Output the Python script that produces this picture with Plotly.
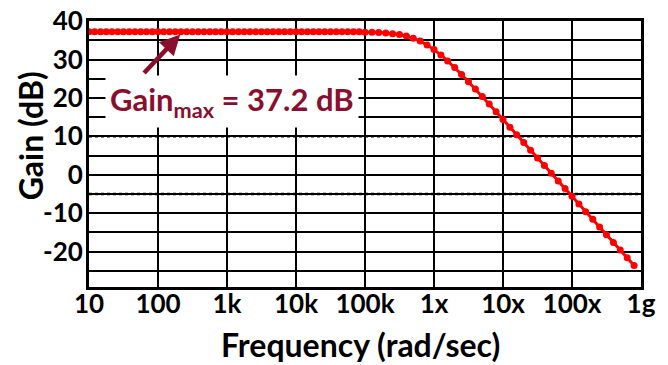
import math
import plotly.graph_objects as go

# ---- data ----
freq_rad_s = [
    10, 12.1, 14.7, 17.8, 21.5, 26.1, 31.6, 38.3, 46.4, 56.2, 68.1, 82.5,
    100, 121, 147, 178, 215, 261, 316, 383, 464, 562, 681, 825,
    1e3, 1.21e3, 1.47e3, 1.78e3, 2.15e3, 2.61e3, 3.16e3, 3.83e3, 4.64e3, 5.62e3, 6.81e3, 8.25e3,
    1e4, 1.21e4, 1.47e4, 1.78e4, 2.15e4, 2.61e4, 3.16e4, 3.83e4, 4.64e4, 5.62e4, 6.81e4, 8.25e4,
    1e5, 1.26e5, 1.58e5, 2.00e5, 2.51e5, 3.16e5, 3.98e5, 5.01e5, 6.31e5, 7.94e5,
    1e6, 1.26e6, 1.58e6, 2.00e6, 2.51e6, 3.16e6, 3.98e6, 5.01e6, 6.31e6, 7.94e6,
    1e7, 1.26e7, 1.58e7, 2.00e7, 2.51e7, 3.16e7, 3.98e7, 5.01e7, 6.31e7, 7.94e7,
    1e8, 1.26e8, 1.58e8, 2.00e8, 2.51e8, 3.16e8, 3.98e8, 5.01e8, 6.31e8, 7.94e8,
]
gain_db = [37.2] * 48 + [
    37.1, 37.1, 37.0, 36.9, 36.7, 36.5, 36.1, 35.5, 34.8, 33.8,
    32.6, 31.2, 29.6, 27.9, 26.1, 24.2, 22.3, 20.4, 18.4, 16.4,
    14.4, 12.4, 10.4, 8.4, 6.4, 4.4, 2.4, 0.4, -1.6, -3.6,
    -5.6, -7.6, -9.6, -11.6, -13.6, -15.6, -17.6, -19.6, -21.6, -23.6,
]

x_tick_vals = [10, 100, 1e3, 1e4, 1e5, 1e6, 1e7, 1e8, 1e9]
x_tick_text = ["10", "100", "1k", "10k", "100k", "1x", "10x", "100x", "1g"]
y_tick_vals = [-20, -10, 0, 10, 20, 30, 40]
y_tick_text = ["-20", "-10", "0", "10", "20", "30", "40"]
dotted_levels = [10, -5]

gain_max_db = 37.2
arrow_tip = (210, 36.5)     # (freq, gain)
arrow_tail = (60, 26.1)

FONT = "Lato"
DARK_RED = "#8A0F2C"
RED = "#FF0000"

fig = go.Figure()
fig.add_trace(go.Scatter(
    x=freq_rad_s, y=gain_db, mode="lines+markers",
    line=dict(color=RED, width=3),
    marker=dict(color=RED, size=7, line=dict(width=0)),
    showlegend=False, hoverinfo="skip",
))

shapes = []
for lvl in dotted_levels:
    shapes.append(dict(type="line", xref="paper", x0=0, x1=1, yref="y", y0=lvl, y1=lvl,
                       line=dict(color="white", width=3), layer="below"))
    shapes.append(dict(type="line", xref="paper", x0=0, x1=1, yref="y", y0=lvl, y1=lvl,
                       line=dict(color="black", width=2.5, dash="dot"), layer="below"))

annotations = [
    dict(x=math.log10(arrow_tip[0]), y=arrow_tip[1], xref="x", yref="y",
         ax=math.log10(arrow_tail[0]), ay=arrow_tail[1], axref="x", ayref="y",
         text="", showarrow=True, arrowhead=2, arrowsize=0.9, arrowwidth=4.5,
         arrowcolor=DARK_RED, standoff=0, startstandoff=0),
    dict(x=math.log10(1200), y=19.2, xref="x", yref="y",
         text=f"Gain<sub>max</sub> = {gain_max_db} dB", showarrow=False,
         font=dict(family=FONT, size=31, color=DARK_RED, weight="bold"),
         bgcolor="white", borderpad=4, xanchor="center", yanchor="middle"),
    # axis titles
    dict(x=0.491, y=-0.218, xref="paper", yref="paper", text="Frequency (rad/sec)",
         showarrow=False, xanchor="center", yanchor="middle",
         font=dict(family=FONT, size=32, color="black", weight="bold")),
    dict(x=-0.107, y=0.57, xref="paper", yref="paper", text="Gain (dB)", textangle=-90,
         showarrow=False, xanchor="center", yanchor="middle",
         font=dict(family=FONT, size=32, color="black", weight="bold")),
]

fig.update_layout(
    width=668, height=365,
    margin=dict(l=89, r=27, t=21, b=78),
    paper_bgcolor="white", plot_bgcolor="white",
    font=dict(family=FONT, color="black", weight="bold"),
    shapes=shapes, annotations=annotations,
    xaxis=dict(
        type="log", range=[1, 9],
        tickvals=x_tick_vals, ticktext=x_tick_text,
        showgrid=True, gridcolor="black", gridwidth=2,
        showline=True, linecolor="black", linewidth=3, mirror=True,
        ticks="", ticklabelstandoff=-8, ticklabeloverflow="allow",
        tickfont=dict(family=FONT, size=26, color="black", weight="bold"),
        zeroline=False, automargin=False,
    ),
    yaxis=dict(
        range=[-29.2, 40.02],
        tickvals=y_tick_vals, ticktext=y_tick_text,
        showgrid=True, gridcolor="black", gridwidth=2,
        minor=dict(dtick=5, tick0=0, showgrid=True, gridcolor="black", gridwidth=2, ticks=""),
        showline=True, linecolor="black", linewidth=3, mirror=True,
        ticks="", ticklabelstandoff=-2, ticklabeloverflow="allow",
        tickfont=dict(family=FONT, size=26, color="black", weight="bold"),
        zeroline=False, automargin=False,
    ),
)

# remove the browser's default 8px page margin so the figure fills the window
fig.write_html("out.html", config={"displayModeBar": False},
               post_script="document.body.style.margin='0px';document.body.style.overflow='hidden';")
